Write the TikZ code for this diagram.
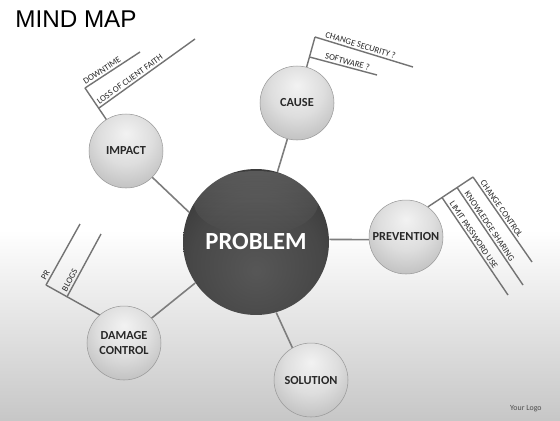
\documentclass[tikz,border=0pt]{standalone}
\usepackage{fontspec}
\setmainfont{Carlito}
\newfontfamily\headfont{Liberation Sans}
\usepackage{tikz}
\usetikzlibrary{calc, fadings}

\definecolor{LinkGrey}{RGB}{125,125,125}
\definecolor{LabelGrey}{RGB}{40,40,40}

\pgfdeclareradialshading{smallball}{\pgfpoint{0bp}{12bp}}{%
  color(0bp)=(black!5);
  color(18bp)=(black!13);
  color(40bp)=(black!30);
  color(56bp)=(black!44);
  color(64bp)=(black!52);
  color(75bp)=(black!55)}
\pgfdeclareradialshading{bigball}{\pgfpoint{0bp}{-10bp}}{%
  color(0bp)=(black!66);
  color(22bp)=(black!72);
  color(45bp)=(black!84);
  color(60bp)=(black!90);
  color(75bp)=(black!92)}
\tikzfading[name=glow, top color=transparent!50, bottom color=transparent!100]

\tikzset{
  bubble/.style={circle, minimum size=1.48cm, inner sep=0pt, shade, shading=smallball,
    draw=black!40, line width=0.3pt, text=LabelGrey, align=center,
    font=\fontsize{7}{8.5}\selectfont\bfseries},
  core/.style={circle, minimum size=2.92cm, inner sep=0pt, shade, shading=bigball,
    text=white, font=\fontsize{14}{16}\selectfont\bfseries},
  link/.style={LinkGrey, line width=0.9pt},
  twig/.style={black!55, line width=0.8pt},
  leaf/.style={pos=0, sloped, anchor=south west, inner sep=1pt, text=LabelGrey,
    font=\fontsize{5}{6}\selectfont}
}

\begin{document}
\begin{tikzpicture}[x=0.02cm, y=-0.02cm]

	% page and floor
	\useasboundingbox (0,0) rectangle (560,420);
	\fill[white] (0,0) rectangle (560,420);
	\shade[top color=white, bottom color=black!22] (0,230) rectangle (560,420);

	\node[anchor=base west, inner sep=0pt, font=\headfont\fontsize{13.8}{15}\selectfont] (title) at (15,27) {MIND MAP};
	\node[anchor=base east, inner sep=0pt, text=black!70, font=\fontsize{4.5}{5}\selectfont] (logo) at (542,410) {Your Logo};

	% spheres
	\node[core] (P) at (256,242) {PROBLEM};
	\fill[white, path fading=glow, fill opacity=0.3] (256,203) ellipse (62 and 32);
	\node[bubble] (I) at (126,151) {IMPACT};
	\node[bubble] (C) at (297,103) {CAUSE};
	\node[bubble] (V) at (406,237) {PREVENTION};
	\node[bubble] (D) at (124,343) {DAMAGE\\CONTROL};
	\node[bubble] (S) at (311,380) {SOLUTION};

	\draw[link] (I.-45) -- (P.156);
	\draw[link] (C.255) -- (P.73);
	\draw[link] (V.184) -- (P.2);
	\draw[link] (D.42) -- (P.214);
	\draw[link] (S.120) -- (P.-74);

	% impact
	\coordinate (i1) at (85,88);
	\coordinate (i2) at (99,108);
	\draw[twig] (I.122) -- (i1);
	\draw[twig] (i1) -- (140,52) node[leaf] {DOWNTIME};
	\draw[twig] (i2) -- (195,39) node[leaf] {LOSS OF CLIENT FAITH};

	% cause
	\coordinate (c1) at (315,37);
	\coordinate (c2) at (309.5,57);
	\draw[twig] (C.75) -- (c1);
	\draw[twig] (c1) -- (413,67) node[leaf, pos=.07] {CHANGE SECURITY ?};
	\draw[twig] (c2) -- (377,75) node[leaf, pos=.18] {SOFTWARE ?};

	% prevention
	\coordinate (v1) at (473,177);
	\coordinate (v2) at (457,187.5);
	\coordinate (v3) at (442,197.5);
	\draw[twig] (V.54) -- (v1);
	\draw[twig] (v1) -- (532,262) node[leaf, pos=.06] {CHANGE CONTROL};
	\draw[twig] (v2) -- (523,285) node[leaf, pos=.06] {KNOWLEDGE SHARING};
	\draw[twig] (v3) -- (508,295) node[leaf, pos=.06] {LIMIT PASSWORD USE};

	% damage control
	\coordinate (d1) at (46,285);
	\coordinate (d2) at (67,296.8);
	\draw[twig] (D.131) -- (d1);
	\draw[twig] (d1) -- (80,224) node[leaf, pos=.02] {PR};
	\draw[twig] (d2) -- (101,234) node[leaf, pos=.02] {BLOGS};

\end{tikzpicture}
\end{document}
